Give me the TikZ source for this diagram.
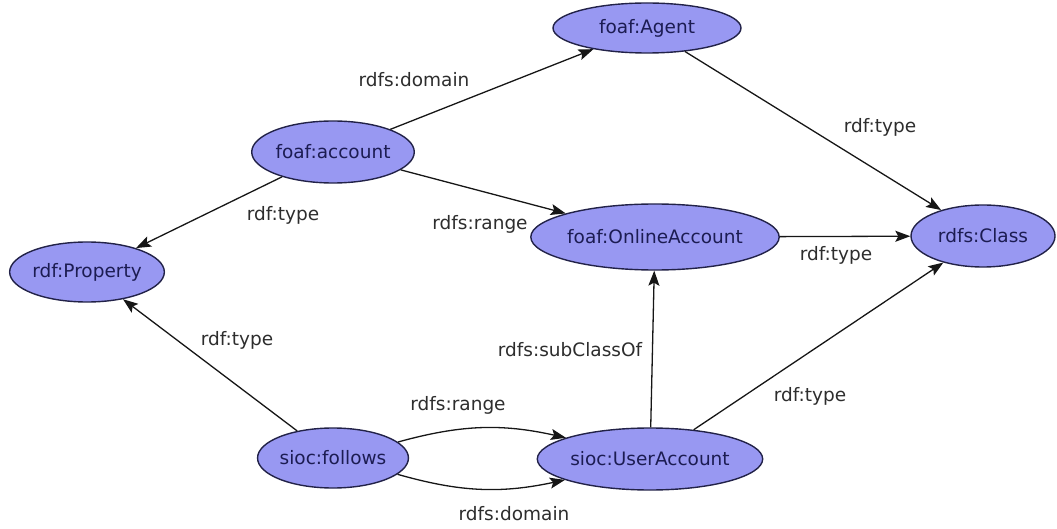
\documentclass[tikz,border=0pt]{standalone}
\usepackage{fontspec}
\setmainfont{DejaVu Sans}
\usetikzlibrary{shapes.geometric,arrows.meta}

\definecolor{classfill}{RGB}{152,152,242}
\definecolor{classline}{RGB}{34,34,72}
\definecolor{classtext}{RGB}{28,28,82}
\definecolor{edgecol}{RGB}{22,22,22}
\definecolor{lblcol}{RGB}{45,45,45}

\tikzset{
  res/.style={ellipse, draw=classline, line width=1.4pt, fill=classfill,
    inner sep=0pt, text=classtext,
    font=\fontsize{18.5}{20}\selectfont},
  rel/.style={draw=edgecol, line width=1.3pt,
    -{Stealth[length=15pt,width=11pt,inset=3pt]}},
  lbl/.style={text=lblcol, inner sep=0pt, font=\fontsize{18.5}{20}\selectfont},
}

\begin{document}
\begin{tikzpicture}[x=1pt,y=-1pt]
  \useasboundingbox (0,0) rectangle (1057,529);

  % resources
  \node[res, minimum width=188pt, minimum height=50pt] (agent)    at (647,28)  {foaf:Agent};
  \node[res, minimum width=146pt, minimum height=62pt] (account)  at (333,152) {foaf:account};
  \node[res, minimum width=150pt, minimum height=60pt] (property) at (87,272)  {rdf:Property};
  \node[res, minimum width=210pt, minimum height=66pt] (online)   at (655,237) {foaf:OnlineAccount};
  \node[res, minimum width=144pt, minimum height=62pt] (class)    at (983,236) {rdfs:Class};
  \node[res, minimum width=146pt, minimum height=60pt] (follows)  at (333,458) {sioc:follows};
  \node[res, minimum width=194pt, minimum height=62pt] (user)     at (650,459) {sioc:UserAccount};

  % properties between resources
  \draw[rel] (account) -- (agent)    node[lbl, at={(414,80)}]  {rdfs:domain};
  \draw[rel] (account) -- (online)   node[lbl, at={(480,224)}] {rdfs:range};
  \draw[rel] (account) -- (property) node[lbl, at={(283,215)}] {rdf:type};
  \draw[rel] (agent)   -- (class)    node[lbl, at={(880,127)}] {rdf:type};
  \draw[rel] (online)  -- (class)    node[lbl, at={(836,255)}] {rdf:type};
  \draw[rel] (user)    -- (class)    node[lbl, at={(810,396)}] {rdf:type};
  \draw[rel] (user)    -- (online)   node[lbl, at={(570,350)}] {rdfs:subClassOf};
  \draw[rel] (follows) -- (property) node[lbl, at={(237,340)}] {rdf:type};
  \draw[rel] (follows) to[bend left=14]  (user) node[lbl, at={(458,405)}] {rdfs:range};
  \draw[rel] (follows) to[bend right=14] (user) node[lbl, at={(514,514)}] {rdfs:domain};
\end{tikzpicture}
\end{document}
